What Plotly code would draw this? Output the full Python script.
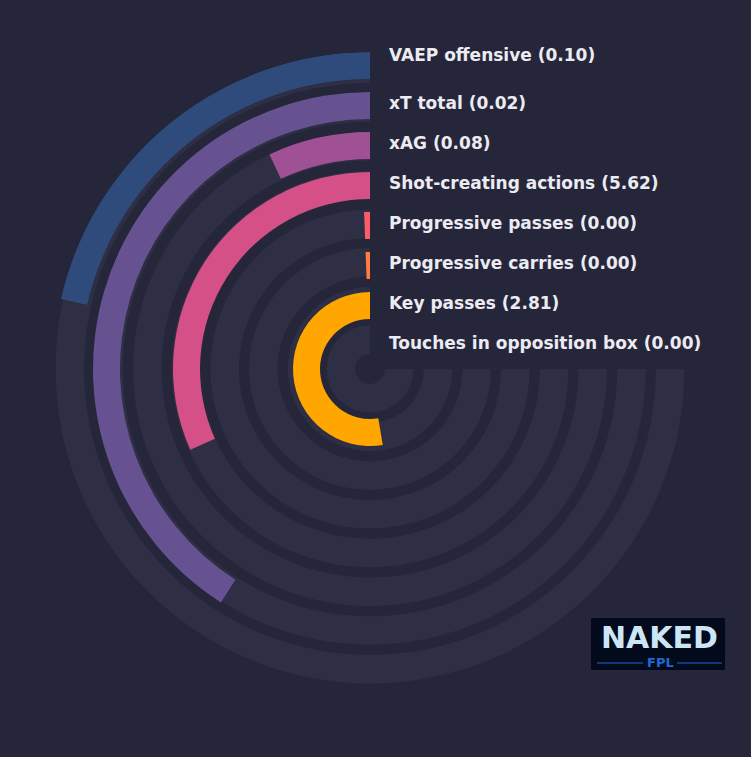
import plotly.graph_objects as go

# metrics from outer ring to inner ring
metrics = ['VAEP offensive', 'xT total', 'xAG', 'Shot-creating actions',
           'Progressive passes', 'Progressive carries', 'Key passes',
           'Touches in opposition box']
values = [0.10, 0.02, 0.08, 5.62, 0.00, 0.00, 2.81, 0.00]
# share of the full 270 degree track that each bar covers (percentile)
percentiles = [28.6, 54.6, 9.3, 42.3, 0.8, 0.8, 70.2, 0.2]
colors = ['#2f4b7c', '#665191', '#a05195', '#d45087',
          '#f95d6a', '#ff7c43', '#ffa600', '#003f5c']

BG = '#25263a'
TRACK = '#2e2f45'
MAX_ANGLE = 270

n = len(metrics)
# radial units are pixels; ring index 0 is the outermost ring
track_base = [15 + 38.7 * (n - 1 - i) for i in range(n)]
bar_base = [10 + 40 * (n - 1 - i) for i in range(n)]

fig = go.Figure()

# background tracks
fig.add_trace(go.Barpolar(
    r=[28.5] * n, base=track_base,
    theta=[MAX_ANGLE / 2] * n, width=[MAX_ANGLE] * n,
    marker=dict(color=TRACK, line=dict(width=0)),
    hoverinfo='skip', showlegend=False))

# value bars
angles = [p / 100 * MAX_ANGLE for p in percentiles]
fig.add_trace(go.Barpolar(
    r=[27] * n, base=bar_base,
    theta=[a / 2 for a in angles], width=angles,
    marker=dict(color=colors, line=dict(width=0)),
    text=metrics, hoverinfo='text', showlegend=False))

W, H = 751, 757
cx, cy, R = 370, 369, 317
fig.update_layout(
    width=W, height=H,
    margin=dict(l=0, r=0, t=0, b=0),
    paper_bgcolor=BG, plot_bgcolor=BG,
    polar=dict(
        bgcolor=BG,
        domain=dict(x=[(cx - R) / W, (cx + R) / W],
                    y=[1 - (cy + R) / H, 1 - (cy - R) / H]),
        radialaxis=dict(visible=False, range=[0, R]),
        angularaxis=dict(visible=False, rotation=90, direction='counterclockwise'),
    ),
)

# labels next to the start of each ring
label_y = [55, 103, 143, 183, 223, 263, 303, 343]
for name, val, y in zip(metrics, values, label_y):
    fig.add_annotation(
        x=387 / W, y=1 - y / H, xref='paper', yref='paper',
        xanchor='left', yanchor='middle', showarrow=False,
        text=f'<b>{name} ({val:.2f})</b>',
        font=dict(family='DejaVu Sans', size=17, color='#ecebf2'))

# logo box
fig.add_shape(type='rect', xref='paper', yref='paper',
              x0=591 / W, x1=725 / W, y0=1 - 670 / H, y1=1 - 618 / H,
              fillcolor='#020a1c', line=dict(width=0))
fig.add_annotation(x=659 / W, y=1 - 637 / H, xref='paper', yref='paper',
                   xanchor='center', yanchor='middle', showarrow=False,
                   text='<b>NAKED</b>',
                   font=dict(family='DejaVu Sans', size=30, color='#cde6f6'))
fig.add_annotation(x=660 / W, y=1 - 662 / H, xref='paper', yref='paper',
                   xanchor='center', yanchor='middle', showarrow=False,
                   text='<b>FPL</b>',
                   font=dict(family='DejaVu Sans', size=13, color='#1c6ad6'))
for x0, x1 in [(597, 643), (677, 722)]:
    fig.add_shape(type='line', xref='paper', yref='paper',
                  x0=x0 / W, x1=x1 / W, y0=1 - 663 / H, y1=1 - 663 / H,
                  line=dict(color='#1c6ad6', width=1))

fig.write_html('out.html',
               config={'displayModeBar': False},
               post_script="document.body.style.margin='0';"
                           "document.body.style.background='" + BG + "';")
